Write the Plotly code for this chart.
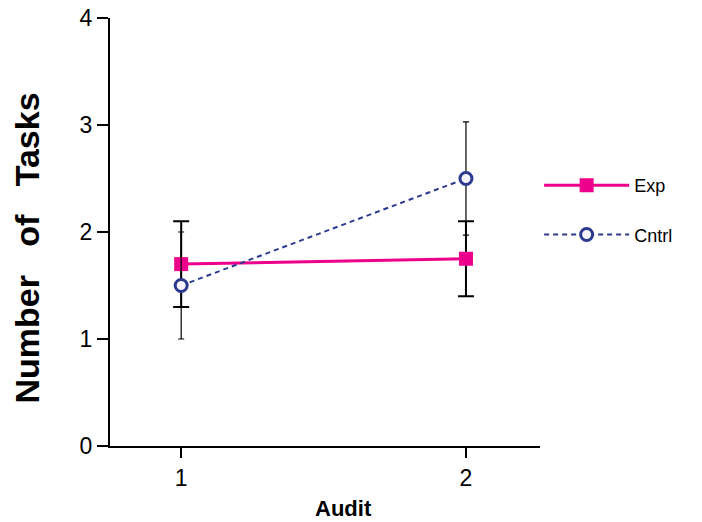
import plotly.graph_objects as go

audit = [1, 2]
exp_mean = [1.70, 1.75]
exp_err = [0.40, 0.35]
cntrl_mean = [1.50, 2.50]
cntrl_err = [0.50, 0.53]
y_ticks = [0, 1, 2, 3, 4]
x_ticks = [1, 2]

PINK = "#EC008C"
BLUE = "#2B3A8F"
FONT = "Liberation Sans, Arial, sans-serif"
NB = "\u00a0"

fig = go.Figure()
fig.add_trace(go.Scatter(
    x=audit, y=exp_mean, name="Exp", legendgroup="exp",
    mode="lines+markers",
    line=dict(color=PINK, width=3),
    marker=dict(symbol="square", size=14, color=PINK),
    error_y=dict(type="data", array=exp_err, visible=True, color="black",
                 thickness=2, width=8),
))
fig.add_trace(go.Scatter(
    x=audit, y=cntrl_mean, name="Cntrl", legendgroup="cntrl",
    mode="lines+markers",
    line=dict(color=BLUE, width=2, dash="5px,4px"),
    marker=dict(symbol="circle", size=12, color="#F4F4FA",
                line=dict(color=BLUE, width=3)),
    error_y=dict(type="data", array=cntrl_err, visible=True, color="black",
                 thickness=1.2, width=3),
))

title_y = "<b>Number" + NB * 3 + "of" + NB * 3 + "Tasks</b>"

fig.update_layout(
    template="none",
    width=702, height=522,
    margin=dict(l=110, r=162, t=18, b=76, pad=0),
    paper_bgcolor="white", plot_bgcolor="white",
    font=dict(family=FONT, color="black"),
    showlegend=True,
    legend=dict(x=0.998, y=0.652, xanchor="left", yanchor="top",
                font=dict(size=18, family=FONT), itemwidth=85,
                tracegroupgap=23, bgcolor="rgba(0,0,0,0)"),
    xaxis=dict(range=[0.75, 2.26], tickvals=x_ticks, ticks="outside",
               ticklen=10, tickwidth=1.5, tickcolor="black",
               showline=True, linewidth=2, linecolor="black",
               showgrid=False, zeroline=False, automargin=False,
               tickfont=dict(size=23, family=FONT)),
    yaxis=dict(range=[0, 4], tickvals=y_ticks, ticks="outside",
               ticklen=11, tickwidth=1.5, tickcolor="black",
               showline=True, linewidth=2, linecolor="black",
               showgrid=False, zeroline=False, automargin=False,
               tickfont=dict(size=23, family=FONT)),
    annotations=[
        dict(text=title_y, textangle=-90,
             xref="paper", yref="paper", x=0, y=0.4614,
             xanchor="center", yanchor="middle",
             xshift=-83, showarrow=False,
             font=dict(size=34, family=FONT)),
        dict(text="<b>Audit</b>",
             xref="paper", yref="paper", x=0.544, y=0,
             xanchor="center", yanchor="middle",
             yshift=-62.5, showarrow=False,
             font=dict(size=22, family=FONT)),
    ],
)

fig.write_html("out.html", config={"displayModeBar": False},
               post_script="document.body.style.margin='0';")
